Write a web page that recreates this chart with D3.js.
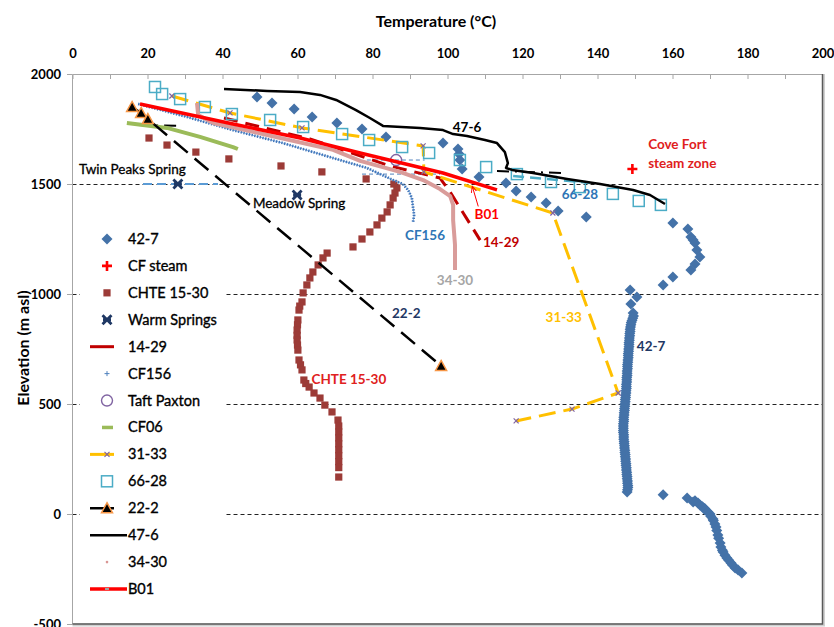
<!DOCTYPE html>
<html><head><meta charset="utf-8">
<script src="https://cdn.jsdelivr.net/npm/d3@7"></script>
<style>
body{margin:0;background:#fff;}
svg text{font-family:Lato,"Open Sans",sans-serif;}
</style></head><body>
<svg id="chart" width="834" height="627"></svg>
<script>
// ---- temperature (°C) / elevation (m asl) profiles ----
const well_42_7 = [
  [49.2,1895],[53.2,1868],[59.1,1841],[63.9,1805],[70.5,1777],[77.2,1750],[83.6,1714],
  [98.8,1686],[102.8,1659],[103.1,1636],[103.3,1609],[103.9,1568],[108.4,1532],[115.6,1505],
  [118.3,1468],[122.3,1441],[126.3,1414],[129.5,1377],[137,1350],[160.1,1323],[164.1,1295],
  [164.9,1259],[165.5,1245],[166,1232],[166.5,1200],[167.3,1168],[166,1136],[164.9,1109],[160.1,1077],
  [157.5,1041],[148.7,1018],[150.5,986],[148.9,955],[149.5,914],
  [149.6,900],[149.4,890],[149.2,880],[149.0,870],[148.9,860],[148.8,850],[148.7,840],[148.7,830],
  [148.6,820],[148.6,810],[148.5,800],[148.5,790],[148.4,780],[148.4,770],[148.4,760],[148.3,750],
  [148.3,740],[148.2,730],[148.2,720],[148.2,710],[148.1,700],[148.1,690],[148.0,680],[148.0,670],
  [148.0,660],[147.9,650],[147.9,640],[147.9,630],[147.8,620],[147.8,610],[147.8,600],[147.7,590],
  [147.7,580],[147.7,570],[147.6,560],[147.6,550],[147.5,540],[147.5,530],[147.4,520],[147.4,510],
  [147.3,500],[147.3,490],[147.2,480],[147.2,470],[147.1,460],[147.1,450],[147.0,440],[147.0,430],
  [147.0,420],[146.9,410],[146.9,400],[146.9,390],[146.9,380],[146.9,370],[147.0,360],[147.0,350],
  [147.0,340],[147.1,330],[147.1,320],[147.2,310],[147.2,300],[147.3,290],[147.3,280],[147.4,270],
  [147.4,260],[147.5,250],[147.5,240],[147.6,230],[147.6,220],[147.7,210],[147.7,200],[147.8,190],
  [147.8,180],[147.9,170],[147.9,160],[148.0,150],[148.0,140],[148.1,130],[148.1,120],[148.0,110],
  [147.9,100],
  [157.5,88],[163.9,73],[165.5,55],[166.0,60],[166.8,50],[167.3,41],[168.0,33],[168.6,25],[168.7,18],
  [169.5,8],[170,0],[170.2,-10],[170.8,-23],[170.9,-30],[171.3,-45],[171.6,-59],[171.8,-75],
  [172.1,-95],[172.3,-110],[172.7,-132],[172.9,-150],[173.3,-165],[173.5,-173],[174,-188],
  [174.5,-200],[175,-210],[175.6,-223],[176,-232],[176.7,-245],[177.5,-255],[178.5,-268]
];
const cfSteam = [[149.3,1568]];
const chte_15_30 = [
  [20.4,1709],[25.2,1677],[32.9,1645],[41.7,1614],[55.6,1582],[66.5,1555],[78.3,1523],
  [85.7,1500],[86.5,1482],[86,1459],[85.5,1436],[84.7,1405],[83.9,1373],[82.5,1345],[81.2,1314],
  [79.3,1282],[77.2,1250],[74.8,1214],[67.9,1186],[66.8,1164],[65.5,1132],[64.1,1100],[63.3,1073],
  [62.5,1041],[61.5,1005],[61.2,964],[60.6,945],[60.4,927],[60.1,882],[60.0,860],[59.9,836],
  [59.9,812],[59.9,791],[60.0,768],[60.1,745],[60.4,700],[60.8,678],[61.2,655],[61.7,609],
  [62.2,593],[63.1,577],[64.4,550],[66,527],[67.3,495],[69.2,464],[70.8,427],
  [71,400],[71,373],[71,346],[71,319],[71,292],[71,265],[71,238],[71,211],[71,168]
];
const warmSprings = [[28.1,1500],[59.9,1450]];
const well_14_29 = [[40.4,1800],[63.3,1705],[84.7,1582],[98,1527],[100.7,1464],[108.7,1245]];
const cf156 = [[17.5,1864],[30.5,1805],[42.8,1745],[56.1,1686],[69.5,1618],[78.5,1573],[85.5,1518],
  [88.1,1500],[89.5,1473],[90.5,1436],[90.8,1395],[91.1,1359],[90.8,1327]];
const taftPaxton = [[86.3,1609]];
const cf06 = [[14.5,1777],[25.2,1755],[34,1714],[42.8,1668],[44.1,1659]];
const well_31_33 = [[26.5,1900],[42,1823],[61.2,1755],[93.5,1673],[93.7,1555],[128.1,1368],
  [145.5,550],[133.2,477],[118.3,423]];
const well_66_28 = [[22,1941],[23.9,1909],[28.7,1886],[35.3,1850],[42.5,1818],[52.7,1791],[61.5,1759],
  [71.9,1727],[79.1,1700],[87.9,1668],[95.1,1641],[103.3,1609],[110.3,1577],[118.5,1545],[127.6,1509],
  [135.3,1486],[144.1,1455],[151,1423],[156.9,1405]];
const well_22_2 = [[15.9,1850],[18.3,1823],[20.1,1795],[98.3,673]];
const well_47_6 = [[40.4,1932],[51.9,1923],[60.7,1918],[66,1905],[70.3,1882],[75.6,1836],[79.3,1800],
  [82.8,1764],[92.7,1755],[98.8,1745],[101.5,1727],[105.2,1718],[110,1700],[113.2,1686],[115.3,1645],
  [116.1,1595],[115.6,1573],[117.2,1564],[122.8,1550],[131.9,1523],[140.7,1500],[149.5,1473],
  [154,1450],[158,1409]];
const well_34_30 = [[33.2,1868],[33.5,1814],[37.5,1777],[51.9,1723],[69.5,1655],[76.7,1605],[87.3,1555],
  [93.5,1518],[98,1477],[100.7,1445],[101.5,1405],[101.5,1336],[102,1223],[102,1109]];
const b01 = [[18,1864],[42.8,1773],[60.7,1709],[76.7,1641],[98.8,1550],[113.2,1473]];

// short interpreted level lines
const springLevel = [[18.8,1500],[38.8,1500]];
const taftLevelA = [[78.5,1609],[93.9,1609]];
const taftLevelB = [[77.2,1545],[98,1545]];
const steamLevel = [[117.5,1536],[138,1505]];
const blackLevelA = [[17.5,1768],[28.7,1764]];
const blackLevelB = [[113.2,1559],[130.8,1550]];

// axes
const tempTicks = d3.range(0, 201, 10);
const elevTicks = [-500, 0, 500, 1000, 1500, 2000];
const gridElev = [0, 500, 1000, 1500];
const legendNames = ["42-7","CF steam","CHTE 15-30","Warm Springs","14-29","CF156","Taft Paxton",
  "CF06","31-33","66-28","22-2","47-6","34-30","B01"];

// annotation labels: [text, T, E, colour, anchor, weight]
const labels = [
  ["Twin Peaks Spring", 1.7, 1545, "#000", "start", 400],
  ["Meadow Spring", 48.1, 1393, "#000", "start", 400],
  ["CF156", 94, 1245, "#2E75B6", "middle", 700],
  ["14-29", 114.3, 1212, "#C00000", "middle", 700],
  ["34-30", 102, 1043, "#A6A6A6", "middle", 700],
  ["B01", 110.5, 1343, "#FF0000", "middle", 700],
  ["22-2", 89, 889, "#1F3864", "middle", 700],
  ["CHTE 15-30", 73.7, 589, "#E02020", "middle", 700],
  ["31-33", 131, 871, "#FFC000", "middle", 700],
  ["42-7", 154.3, 739, "#1F3864", "middle", 700],
  ["66-28", 135.3, 1430, "#2E75B6", "middle", 700],
  ["47-6", 105.2, 1736, "#000", "middle", 700],
  ["Cove Fort", 153.5, 1657, "#E02020", "start", 700],
  ["steam zone", 153.5, 1575, "#E02020", "start", 700]
];

const svg = d3.select("#chart");
const x = d3.scaleLinear().domain([0, 200]).range([72.5, 822.5]);
const y = d3.scaleLinear().domain([-500, 2000]).range([624, 74]);
const line = d3.line().x(d => x(d[0])).y(d => y(d[1]));

// dashed elevation grid
svg.append("g").selectAll("line").data(gridElev).join("line")
  .attr("x1", x(0)).attr("x2", x(200))
  .attr("y1", d => y(d) + 0.5).attr("y2", d => y(d) + 0.5)
  .attr("stroke", "#222").attr("stroke-width", 1).attr("stroke-dasharray", "4,3");

// marker shapes
const sym = {
  diamond: (g, cx, cy) => g.append("path").attr("d", `M${cx},${cy-5.5}L${cx+5.5},${cy}L${cx},${cy+5.5}L${cx-5.5},${cy}Z`).attr("fill", "#4472A8"),
  steam: (g, cx, cy) => g.append("path").attr("d", `M${cx-5},${cy}H${cx+5}M${cx},${cy-5}V${cy+5}`).attr("stroke", "#FF0000").attr("stroke-width", 2.6),
  square: (g, cx, cy) => g.append("rect").attr("x", cx-3.6).attr("y", cy-3.6).attr("width", 7.2).attr("height", 7.2).attr("fill", "#9C3B37"),
  cross: (g, cx, cy) => g.append("path").attr("d", `M${cx-4.5},${cy-4.5}L${cx+4.5},${cy+4.5}M${cx+4.5},${cy-4.5}L${cx-4.5},${cy+4.5}M${cx-4},${cy}H${cx+4}`).attr("stroke", "#1F3864").attr("stroke-width", 2.8),
  smallPlus: (g, cx, cy) => g.append("path").attr("d", `M${cx-2.5},${cy}H${cx+2.5}M${cx},${cy-2.5}V${cy+2.5}`).attr("stroke", "#4F81BD").attr("stroke-width", 1),
  circle: (g, cx, cy) => g.append("circle").attr("cx", cx).attr("cy", cy).attr("r", 5.5).attr("fill", "none").attr("stroke", "#8064A2").attr("stroke-width", 1.4),
  smallX: (g, cx, cy) => g.append("path").attr("d", `M${cx-2.5},${cy-2.5}L${cx+2.5},${cy+2.5}M${cx+2.5},${cy-2.5}L${cx-2.5},${cy+2.5}`).attr("stroke", "#8064A2").attr("stroke-width", 1.2),
  openSquare: (g, cx, cy) => g.append("rect").attr("x", cx-5.5).attr("y", cy-5.5).attr("width", 11).attr("height", 11).attr("fill", "none").attr("stroke", "#4BACC6").attr("stroke-width", 1.5),
  triangle: (g, cx, cy) => g.append("path").attr("d", `M${cx},${cy-5.5}L${cx+5.5},${cy+4.5}L${cx-5.5},${cy+4.5}Z`).attr("fill", "#000").attr("stroke", "#F79646").attr("stroke-width", 1.5),
  dot: (g, cx, cy) => g.append("circle").attr("cx", cx).attr("cy", cy).attr("r", 1.3).attr("fill", "#D99694")
};
function markers(data, shape) {
  const g = svg.append("g");
  data.forEach(d => sym[shape](g, x(d[0]), y(d[1])));
}
function path(data, color, width, dash) {
  const p = svg.append("path").datum(data).attr("d", line).attr("fill", "none")
    .attr("stroke", color).attr("stroke-width", width).attr("stroke-linejoin", "round");
  if (dash) p.attr("stroke-dasharray", dash);
  return p;
}

// interpreted level lines (drawn beneath the profiles)
path(springLevel, "#5B9BD5", 2, "9,5");
path(taftLevelA, "#4F81BD", 1, "4,3");
path(taftLevelB, "#4F81BD", 1, "4,3");
path(steamLevel, "#4BACC6", 2.5, "11,6");
path(blackLevelA, "#000", 2, "12,6,2,6");
path(blackLevelB, "#000", 2, "12,6,2,6");

// series, in legend order
markers(well_42_7, "diamond");
markers(cfSteam, "steam");
markers(chte_15_30, "square");
markers(warmSprings, "cross");
path(well_14_29, "#C00000", 3, "14,8");
path(cf156, "#8FB3DE", 1);
path(cf156, "#3D74BA", 2.8, "1.3,1.5");
markers(taftPaxton, "circle");
path(cf06, "#9BBB59", 4);
path(well_31_33, "#FFC000", 3, "17,8");
markers(well_31_33, "smallX");
markers(well_66_28, "openSquare");
path(well_22_2, "#000", 2.5, "18,9");
markers(well_22_2, "triangle");
path(well_47_6, "#000", 2.5);
path(well_34_30, "#D99C9A", 4);
path(b01, "#FF0000", 3.5);

// B01 pointer
const defs = svg.append("defs");
defs.append("marker").attr("id", "arr").attr("viewBox", "0 0 10 10").attr("refX", 9).attr("refY", 5)
  .attr("markerWidth", 7).attr("markerHeight", 7).attr("orient", "auto")
  .append("path").attr("d", "M0,1L9,5L0,9").attr("fill", "none").attr("stroke", "#FF0000").attr("stroke-width", 1.3);
svg.append("line").attr("x1", x(108.2)).attr("y1", y(1398)).attr("x2", x(106.6)).attr("y2", y(1490))
  .attr("stroke", "#FF0000").attr("stroke-width", 1).attr("marker-end", "url(#arr)");

// annotation labels
svg.append("g").selectAll("text").data(labels).join("text")
  .attr("x", d => x(d[1])).attr("y", d => y(d[2]))
  .attr("text-anchor", d => d[4]).attr("font-weight", d => d[5])
  .attr("font-size", 13.5).attr("fill", d => d[3])
  .attr("stroke", d => d[5] === 400 ? d[3] : "none").attr("stroke-width", 0.3)
  .text(d => d[0]);

// axes
const xAxis = svg.append("g").attr("transform", `translate(0,${y(2000)})`)
  .call(d3.axisTop(x).tickValues(tempTicks).tickSizeInner(-5).tickSizeOuter(0).tickPadding(16)
    .tickFormat(d => d % 20 === 0 ? String(d) : ""));
const yAxis = svg.append("g").attr("transform", `translate(${x(0) - 0.5},0)`)
  .call(d3.axisLeft(y).tickValues(elevTicks).tickSize(5).tickPadding(6).tickFormat(d => String(d)));
[xAxis, yAxis].forEach(a => {
  a.select(".domain").attr("stroke", "#A6A6A6");
  a.selectAll(".tick line").attr("stroke", "#A6A6A6");
  a.selectAll(".tick text").attr("font-family", "Lato").attr("font-size", 13).attr("font-weight", 700).attr("fill", "#000");
});

// frame on right and bottom
svg.append("path").attr("d", `M${x(0)},${y(-500)+1}H${x(200)+1}V${y(2000)}`)
  .attr("fill", "none").attr("stroke", "#D0D0D0").attr("stroke-width", 3);
svg.append("path").attr("d", `M${x(0)},${y(-500)}H${x(200)}V${y(2000)}`)
  .attr("fill", "none").attr("stroke", "#595959").attr("stroke-width", 1.5);

// axis titles
svg.append("text").attr("x", 436).attr("y", 27).attr("text-anchor", "middle")
  .attr("font-size", 16).attr("font-weight", 700).text("Temperature (°C)");
svg.append("text").attr("transform", "translate(29,348) rotate(-90)").attr("text-anchor", "middle")
  .attr("font-size", 16).attr("font-weight", 700).text("Elevation (m asl)");

// legend
const ly = d3.scalePoint().domain(legendNames).range([239, 589]);
const lg = svg.append("g");
lg.append("rect").attr("x", 80).attr("y", 224).attr("width", 144).attr("height", 378).attr("fill", "#fff");
const lineSwatch = (name, color, w, x1, x2) =>
  lg.append("line").attr("x1", x1).attr("x2", x2).attr("y1", ly(name)).attr("y2", ly(name))
    .attr("stroke", color).attr("stroke-width", w);
const cx = 107;
sym.diamond(lg, cx, ly("42-7"));
sym.steam(lg, cx, ly("CF steam"));
sym.square(lg, cx, ly("CHTE 15-30"));
sym.cross(lg, cx, ly("Warm Springs"));
lineSwatch("14-29", "#C00000", 3, 90, 114);
sym.smallPlus(lg, cx, ly("CF156"));
sym.circle(lg, cx, ly("Taft Paxton"));
lineSwatch("CF06", "#9BBB59", 3.5, 102, 113);
lineSwatch("31-33", "#FFC000", 3, 90, 114);
sym.smallX(lg, cx, ly("31-33"));
sym.openSquare(lg, cx, ly("66-28"));
lineSwatch("22-2", "#000", 2.5, 90, 114);
sym.triangle(lg, cx, ly("22-2"));
lineSwatch("47-6", "#000", 2.5, 90, 127);
sym.dot(lg, cx, ly("34-30"));
lineSwatch("B01", "#FF0000", 3.5, 90, 127);
lg.append("rect").attr("x", cx - 2).attr("y", ly("B01") - 1).attr("width", 4).attr("height", 2).attr("fill", "#A0A0A0");
lg.selectAll("text.lab").data(legendNames).join("text").attr("class", "lab")
  .attr("x", 128).attr("y", d => ly(d) + 5).attr("font-size", 14.5).attr("font-weight", 400)
  .attr("stroke", "#000").attr("stroke-width", 0.35)
  .attr("fill", "#000").text(d => d);
</script></body></html>
